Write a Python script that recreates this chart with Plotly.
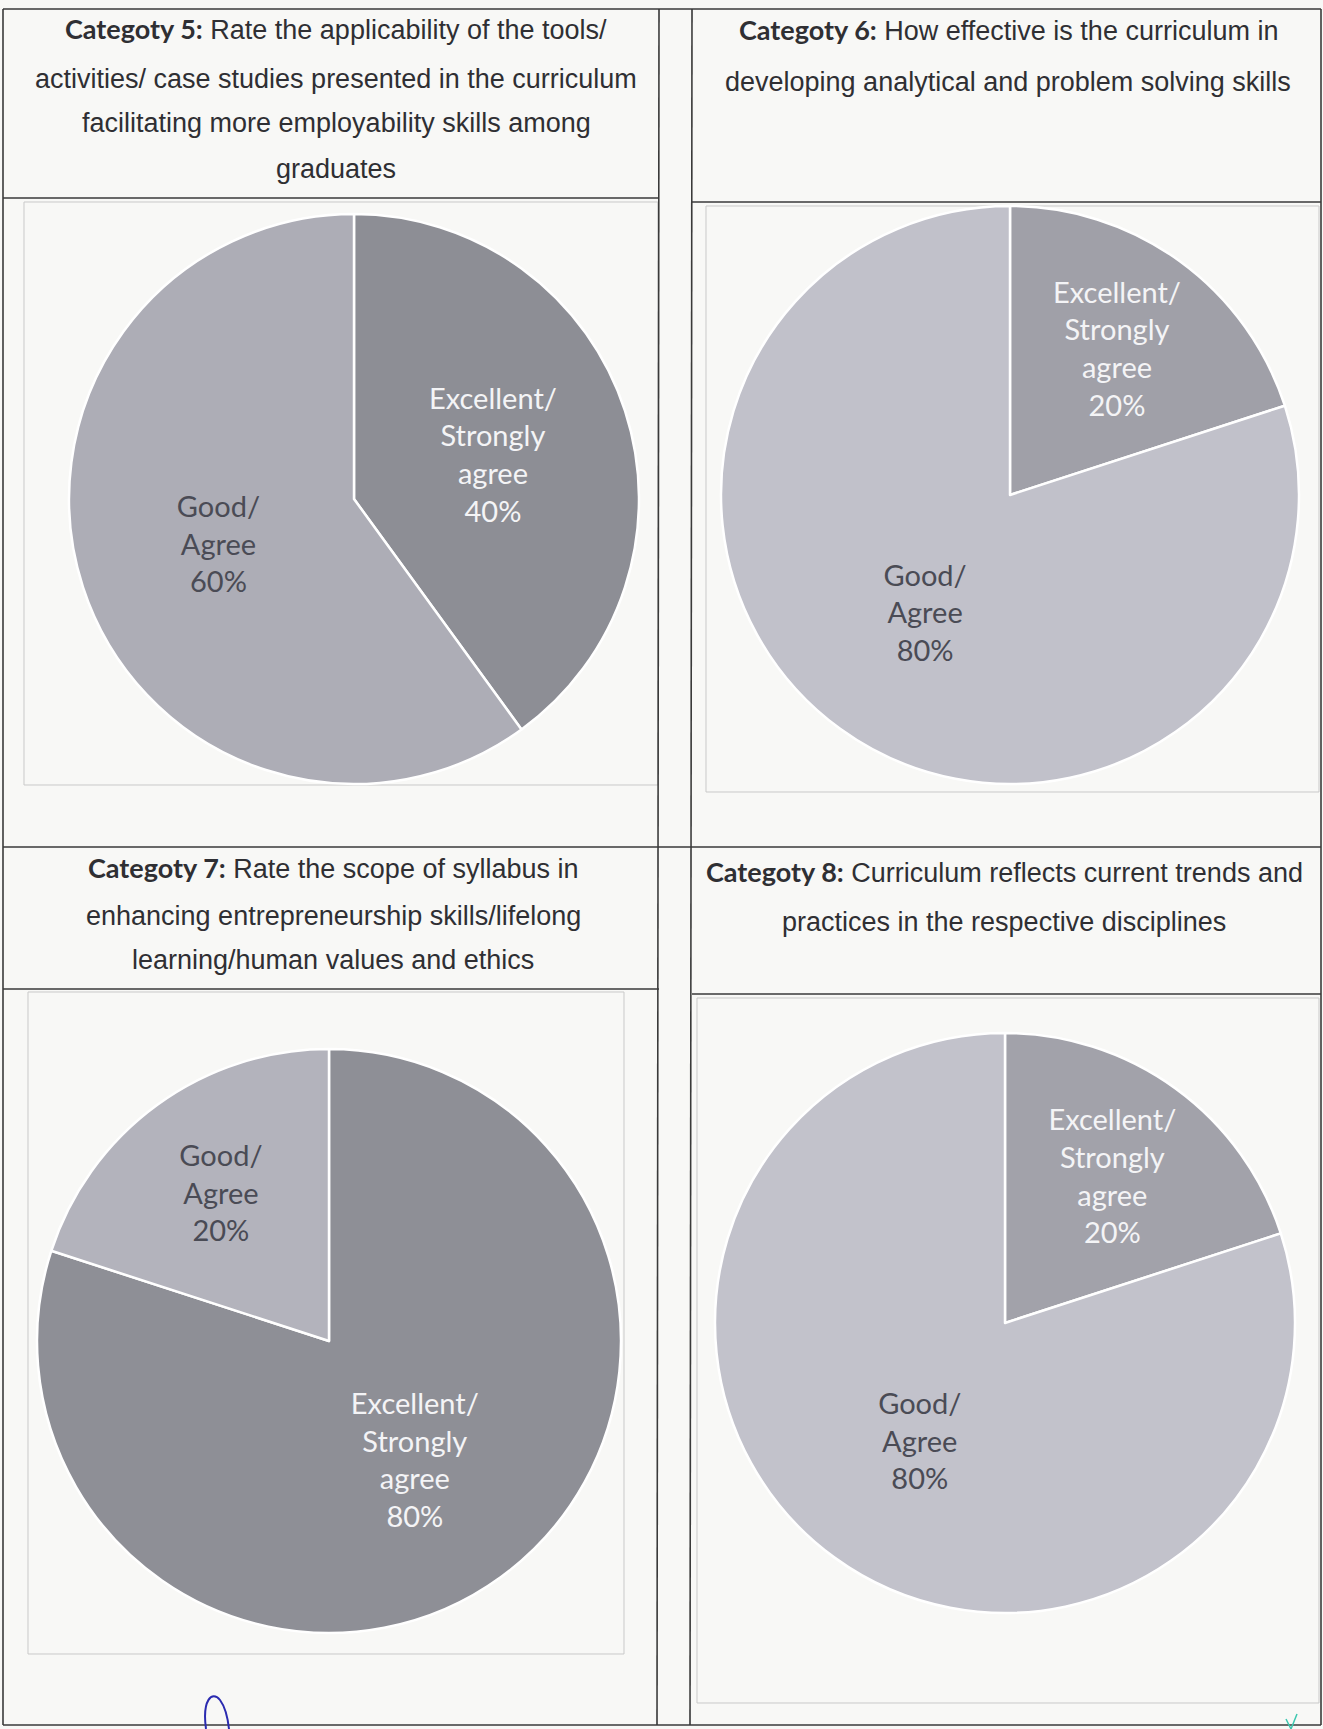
import plotly.graph_objects as go

W, H = 1323, 1729

# ---------------- data ----------------
categories = ["Excellent/ Strongly agree", "Good/ Agree"]
cat5_values = [40, 60]
cat6_values = [20, 80]
cat7_values = [80, 20]
cat8_values = [20, 80]

cat5_title = ["<b>Categoty 5:</b> Rate the applicability of the tools/",
              "activities/ case studies presented in the curriculum",
              "facilitating more employability skills among",
              "graduates"]
cat6_title = ["<b>Categoty 6:</b> How effective is the curriculum in",
              "developing analytical and problem solving skills"]
cat7_title = ["<b>Categoty 7:</b> Rate the scope of syllabus in",
              "enhancing entrepreneurship skills/lifelong",
              "learning/human values and ethics"]
cat8_title = ["<b>Categoty 8:</b> Curriculum reflects current trends and",
              "practices in the respective disciplines"]

# ---------------- helpers ----------------
def px(x):
    return x / W

def py(y):
    return 1 - y / H

display = [c.replace(" ", "<br>") for c in categories]

fig = go.Figure()

charts = [
    # values, center, radius, colours
    (cat5_values, (354, 499), 285, ["#8d8e95", "#adadb6"]),
    (cat6_values, (1010, 495), 289, ["#a0a0a8", "#c1c1ca"]),
    (cat7_values, (329, 1341), 292, ["#8e8f96", "#b3b3bc"]),
    (cat8_values, (1005, 1323), 290, ["#a2a2aa", "#c2c2cb"]),
]

for vals, (cx, cy), r, cols in charts:
    fig.add_trace(go.Pie(
        labels=categories,
        values=vals,
        text=display,
        texttemplate="%{text}<br>%{percent:.0%}",
        textposition="inside",
        insidetextorientation="horizontal",
        insidetextfont=dict(family="Lato", size=29, color=["#f4f4f6", "#4a4b55"]),
        sort=False,
        direction="clockwise",
        rotation=0,
        marker=dict(colors=cols, line=dict(color="#ffffff", width=2.5)),
        showlegend=False,
        hoverinfo="label+percent",
        domain=dict(x=[px(cx - r), px(cx + r)], y=[py(cy + r), py(cy - r)]),
    ))

shapes = []

def line(x0, y0, x1, y1, color="#3a3a3a", width=1.6):
    shapes.append(dict(type="line", xref="paper", yref="paper",
                       x0=px(x0), y0=py(y0), x1=px(x1), y1=py(y1),
                       line=dict(color=color, width=width), layer="below"))

def rect(x0, y0, x1, y1, color="#c9c9c9", width=1):
    shapes.append(dict(type="rect", xref="paper", yref="paper",
                       x0=px(x0), y0=py(y0), x1=px(x1), y1=py(y1),
                       line=dict(color=color, width=width), layer="below"))

# inner chart frames
rect(24, 202, 658, 785)
rect(706, 206, 1319, 792)
rect(28, 992, 624, 1654)
rect(697, 998, 1319, 1703)

# table grid
line(3, 9, 1321, 9)
line(3, 9, 3, 1725)
line(659, 9, 657, 1725)
line(692, 9, 690, 1725)
line(1321, 9, 1321, 1725)
line(3, 198, 659, 198)
line(692, 202, 1321, 202)
line(3, 847, 1321, 847)
line(3, 989, 659, 989)
line(692, 994, 1321, 994)
line(3, 1725, 1321, 1725)

# handwriting marks at the bottom
shapes.append(dict(type="path", xref="paper", yref="paper",
                   path=f"M {px(206)} {py(1729)} C {px(202)} {py(1700)}, {px(212)} {py(1690)}, {px(220)} {py(1700)} "
                        f"C {px(226)} {py(1708)}, {px(228)} {py(1720)}, {px(229)} {py(1729)}",
                   line=dict(color="#2b2bb0", width=2)))
shapes.append(dict(type="path", xref="paper", yref="paper",
                   path=f"M {px(1286)} {py(1719)} L {px(1291)} {py(1729)} L {px(1297)} {py(1714)}",
                   line=dict(color="#3cc7b0", width=1.5)))

annotations = []

def title(lines, cx, ys):
    for t, y in zip(lines, ys):
        t = t.replace("<b>", "<b><span style='font-family:Lato;font-size:27px'>").replace("</b>", "</span></b>")
        annotations.append(dict(text=t, x=px(cx), y=py(y), xref="paper", yref="paper",
                                xanchor="center", yanchor="middle", showarrow=False,
                                font=dict(family="Liberation Sans", size=27, color="#2f2f33")))

title(cat5_title, 336, [28, 79, 123, 169])
title(cat6_title, 1008, [30, 82])
title(cat7_title, 333, [867, 916, 960])
title(cat8_title, 1004, [871, 922])

fig.update_layout(
    width=W, height=H,
    margin=dict(l=0, r=0, t=0, b=0),
    paper_bgcolor="#f8f8f6",
    plot_bgcolor="#f8f8f6",
    shapes=shapes,
    annotations=annotations,
)

fig.write_html("out.html",
               config={"displayModeBar": False},
               post_script="document.body.style.margin='0';document.body.style.padding='0';"
                           "document.body.style.overflow='hidden';")
